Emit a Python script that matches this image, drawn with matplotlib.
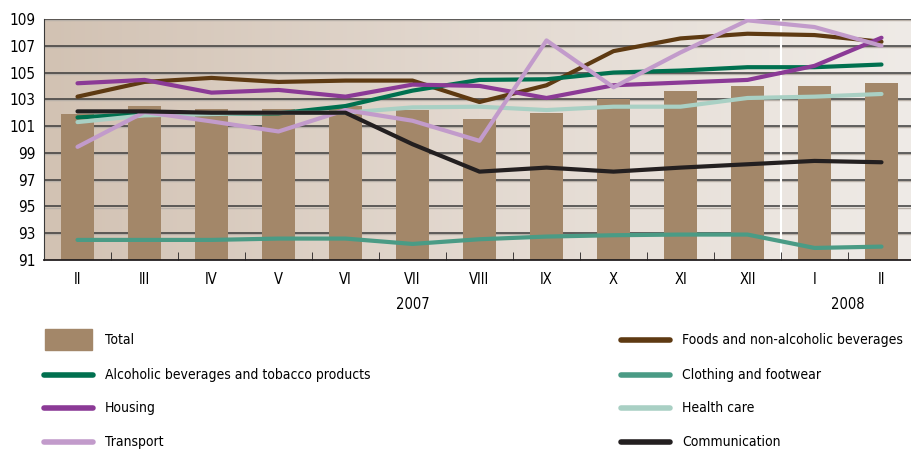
import numpy as np
import matplotlib
matplotlib.use("Agg")
import matplotlib.pyplot as plt
import matplotlib.font_manager as fm
from matplotlib.colors import LinearSegmentedColormap
from matplotlib.lines import Line2D
from matplotlib.patches import Rectangle

# smal skrift hvis den finnes
fonter = fm.fontManager.ttflist
navn_sett = set(f.name for f in fonter)
har_condensed = any(f.name == "DejaVu Sans" and f.stretch == "condensed" for f in fonter)
if "Liberation Sans Narrow" in navn_sett:
    plt.rcParams['font.family'] = ['Liberation Sans Narrow', 'DejaVu Sans']
    fs = 11.5
elif har_condensed:
    plt.rcParams['font.family'] = ['DejaVu Sans']
    plt.rcParams['font.stretch'] = 'condensed'
    fs = 10
else:
    plt.rcParams['font.family'] = ['DejaVu Sans']
    fs = 9

maaneder = ["II", "III", "IV", "V", "VI", "VII", "VIII", "IX", "X", "XI", "XII", "I", "II"]

total = [101.9, 102.5, 102.3, 102.3, 102.5, 102.2, 101.5, 102.0, 103.0, 103.65, 104.0, 104.0, 104.2]
foods = [103.2, 104.3, 104.6, 104.3, 104.4, 104.4, 102.8, 104.05, 106.6, 107.55, 107.9, 107.8, 107.3]
alcohol = [101.65, 101.9, 101.9, 101.95, 102.5, 103.65, 104.45, 104.5, 105.0, 105.15, 105.4, 105.4, 105.6]
clothing = [92.5, 92.5, 92.5, 92.6, 92.6, 92.2, 92.55, 92.75, 92.85, 92.9, 92.9, 91.9, 92.0]
housing = [104.2, 104.45, 103.5, 103.7, 103.2, 104.1, 104.0, 103.1, 104.05, 104.25, 104.45, 105.5, 107.6]
health = [101.3, 101.8, 101.9, 102.0, 102.0, 102.4, 102.45, 102.2, 102.45, 102.45, 103.1, 103.2, 103.4]
transport = [99.45, 102.05, 101.35, 100.6, 102.2, 101.4, 99.9, 107.4, 103.9, 106.5, 108.9, 108.4, 107.0]
communication = [102.1, 102.1, 102.0, 102.0, 102.0, 99.65, 97.6, 97.9, 97.6, 97.9, 98.15, 98.4, 98.3]

serier = [
    ("Foods and non-alcoholic beverages", foods, "#5e3a12"),
    ("Alcoholic beverages and tobacco products", alcohol, "#00704f"),
    ("Clothing and footwear", clothing, "#4a9b85"),
    ("Housing", housing, "#8b3a96"),
    ("Health care", health, "#a9d0c4"),
    ("Transport", transport, "#c29bcb"),
    ("Communication", communication, "#231f20"),
]
farge = dict((s[0], s[2]) for s in serier)
bar_farge = "#a38769"

fig = plt.figure(figsize=(9.12, 4.5), dpi=100)
ax = fig.add_axes([44 / 912, 1 - 260 / 450, 871 / 912, 241 / 450])

x = np.arange(len(maaneder))
ax.set_xlim(-0.5, len(maaneder) - 0.5)
ax.set_ylim(91, 109)

# bakgrunn med fargeovergang
cmap = LinearSegmentedColormap.from_list("bg", ["#d2c2b3", "#e3d9d0", "#efebe7"])
grad = np.linspace(0, 1, 256).reshape(1, -1)
ax.imshow(grad, cmap=cmap, aspect="auto", extent=[-0.5, len(maaneder) - 0.5, 91, 109], zorder=0)

# rutenett
for yv in range(93, 110, 2):
    ax.axhline(yv - 0.08, color="#b8b0a8", lw=1.0, zorder=1)
    ax.axhline(yv, color="#3a3a3a", lw=1.1, zorder=1)

# hvit skillelinje mellom 2007 og 2008
ax.axvline(10.5, color="white", lw=1.5, zorder=1)

ax.bar(x, total, width=0.49, bottom=0, color=bar_farge, zorder=2)

for navn, verdier, c in serier:
    ax.plot(x, verdier, color=c, lw=3, solid_capstyle="round", zorder=3)

for s in ["top", "right"]:
    ax.spines[s].set_visible(False)
ax.spines["left"].set_color("#3a3a3a")
ax.spines["bottom"].set_color("#231f20")
ax.spines["bottom"].set_linewidth(1.3)

ax.set_yticks(range(91, 110, 2))
ax.tick_params(axis="y", length=0, labelsize=fs + 1, pad=6)
ax.set_xticks(x)
ax.set_xticklabels(maaneder)
ax.tick_params(axis="x", length=0, labelsize=fs + 0.5, pad=9)
ax.set_xticks(list(x + 0.5), minor=True)
ax.tick_params(axis="x", which="minor", direction="in", length=6, color="#231f20")

ax.text(5, -0.155, "2007", transform=ax.get_xaxis_transform(), ha="center", va="top", fontsize=fs + 0.5)
ax.text(11.5, -0.155, "2008", transform=ax.get_xaxis_transform(), ha="center", va="top", fontsize=fs + 0.5)

# tegnforklaring
lax = fig.add_axes([0, 0, 1, 1])
lax.set_xlim(0, 912)
lax.set_ylim(450, 0)
lax.axis("off")

venstre = ["Total", "Alcoholic beverages and tobacco products", "Housing", "Transport"]
hoyre = ["Foods and non-alcoholic beverages", "Clothing and footwear", "Health care", "Communication"]
rader = [340, 375, 408, 442]

for i, navn in enumerate(venstre):
    yy = rader[i]
    if navn == "Total":
        lax.add_patch(Rectangle((45, yy - 11), 47, 21, color=bar_farge))
    else:
        lax.add_line(Line2D([44, 93], [yy, yy], color=farge[navn], lw=4, solid_capstyle="round"))
    lax.text(105, yy, navn, va="center", ha="left", fontsize=fs)

for i, navn in enumerate(hoyre):
    yy = rader[i]
    lax.add_line(Line2D([621, 670], [yy, yy], color=farge[navn], lw=4, solid_capstyle="round"))
    lax.text(682, yy, navn, va="center", ha="left", fontsize=fs)

plt.savefig("out.png", dpi=100)
